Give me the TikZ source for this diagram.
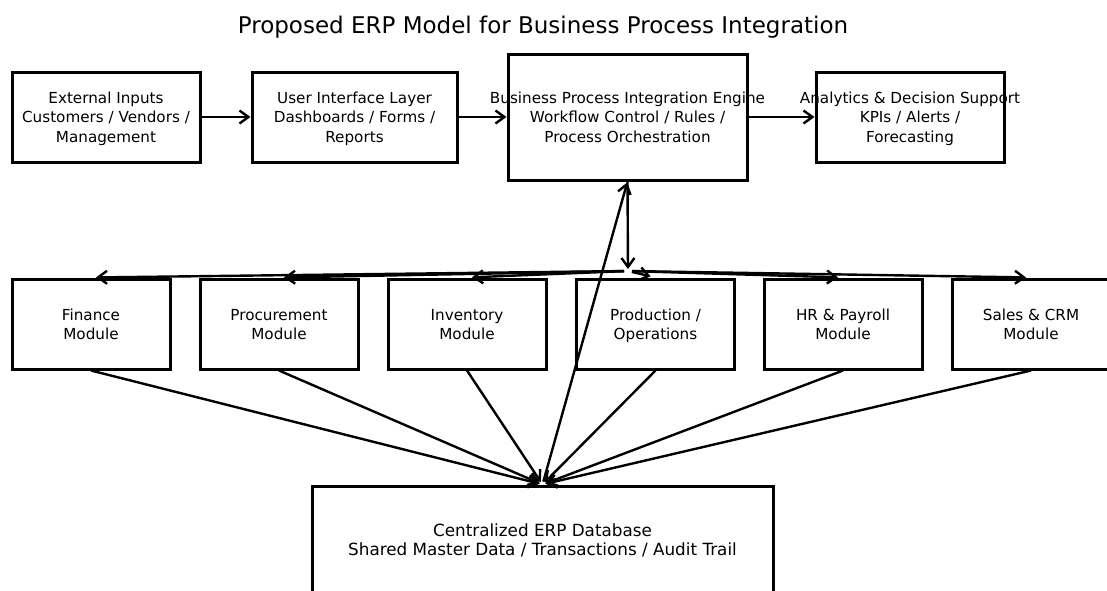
\documentclass[tikz,border=0pt]{standalone}
\usepackage{fontspec}
\setmainfont{DejaVu Sans}
\usetikzlibrary{arrows.meta}
\newcommand\ml[1]{\raisebox{-2pt}[\height][\depth]{\makebox[0pt]{\begin{tabular}{@{}c@{}}#1\end{tabular}}}}
\tikzset{
  box/.style={draw, line width=3pt, inner sep=0pt, rectangle,
    font=\fontsize{15.2}{19.5}\selectfont},
  arr/.style={line width=2.4pt, -{Straight Barb[length=9pt,width=13pt,line width=2.4pt]}},
}
\begin{document}
\begin{tikzpicture}[x=1pt,y=-1pt]
\useasboundingbox[fill=white] (0,0) rectangle (1107,590);
\node[font=\fontsize{23}{27}\selectfont] (title) at (543,27) {Proposed ERP Model for Business Process Integration};
% top row
\node[box, minimum width=188pt, minimum height=90pt] (ext) at (106,117) {\ml{External Inputs\\Customers / Vendors /\\Management}};
\node[box, minimum width=205pt, minimum height=90pt] (ui) at (354.5,117) {\ml{User Interface Layer\\Dashboards / Forms /\\Reports}};
\node[box, minimum width=239pt, minimum height=126pt] (bpie) at (627.5,117) {\ml{Business Process Integration Engine\\Workflow Control / Rules /\\Process Orchestration}};
\node[box, minimum width=188pt, minimum height=90pt] (ana) at (910,117) {\ml{Analytics \& Decision Support\\KPIs / Alerts /\\Forecasting}};
% modules
\node[box, minimum width=158pt, minimum height=90pt] (fin) at (91,324) {\ml{Finance\\Module}};
\node[box, minimum width=158pt, minimum height=90pt] (proc) at (279,324) {\ml{Procurement\\Module}};
\node[box, minimum width=158pt, minimum height=90pt] (inv) at (467,324) {\ml{Inventory\\Module}};
\node[box, minimum width=158pt, minimum height=90pt] (prod) at (655.5,324) {\ml{Production /\\Operations}};
\node[box, minimum width=158pt, minimum height=90pt] (hr) at (843,324) {\ml{HR \& Payroll\\Module}};
\node[box, minimum width=158pt, minimum height=90pt] (sales) at (1031,324) {\ml{Sales \& CRM\\Module}};
% database
\node[box, minimum width=461pt, minimum height=108pt, font=\fontsize{16.8}{19.5}\selectfont] (db) at (542.5,540) {\ml{Centralized ERP Database\\Shared Master Data / Transactions / Audit Trail}};
\coordinate (hub) at (628,271);
% top row arrows
\draw[arr] (ext) -- (ui);
\draw[arr] (ui) -- (bpie);
\draw[arr] (bpie) -- (ana);
\draw[arr, shorten >=2pt] (bpie.south) -- (hub);
\foreach \m in {fin,proc,inv,prod,hr,sales}{
  \draw[arr, shorten <=4pt, shorten >=5pt] (hub) -- (\m.north);
  \draw[arr, shorten >=3pt] (\m.south) -- (db.north);
}
\draw[arr, shorten >=1pt, shorten <=3pt] (db.north) -- (bpie.south);
\end{tikzpicture}
\end{document}
